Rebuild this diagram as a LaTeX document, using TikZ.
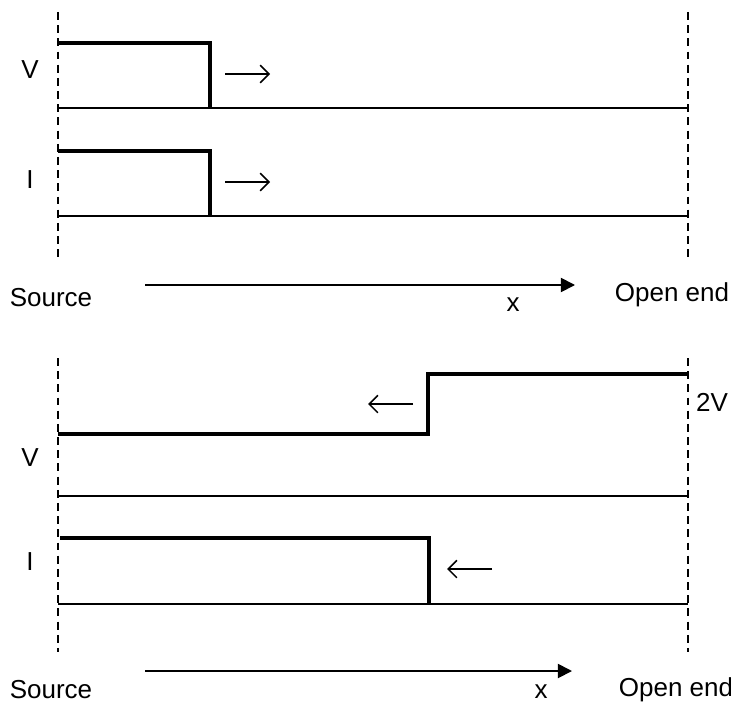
\documentclass[tikz,border=0pt]{standalone}
\usepackage{fontspec}
\setmainfont{Liberation Sans}
\usetikzlibrary{arrows.meta}
\tikzset{
	wall/.style={line width=0.9pt, dash pattern=on 4.5pt off 3pt},
	pulse/.style={line width=2.2pt, line join=miter},
	base/.style={line width=1pt},
	move/.style={-{Straight Barb[length=5pt,width=10pt,line width=0.9pt]}, line width=0.9pt},
	axis/.style={-{Triangle[length=8pt,width=8pt]}, line width=1pt},
	lbl/.style={font=\fontsize{14.8}{17}\selectfont, inner sep=0pt}
}
\begin{document}
\begin{tikzpicture}[>=stealth, scale=1]
\useasboundingbox (0,0) rectangle (14.62,14.08);
% before reflection
\draw[wall] (1.16,13.84)--(1.16,8.84);
\draw[wall] (13.76,13.84)--(13.76,8.84);
\draw[base] (1.16,11.92)--(13.76,11.92);
\draw[base] (1.16,9.76)--(13.76,9.76);
\draw[pulse] (1.16,13.22)--(4.2,13.22)--(4.2,11.92);
\draw[pulse] (1.16,11.06)--(4.2,11.06)--(4.2,9.76);
\draw[move] (4.5,12.6)--(5.4,12.6);
\draw[move] (4.5,10.44)--(5.4,10.44);
\node[lbl] (v1) at (0.6,12.68) {V};
\node[lbl] (i1) at (0.6,10.48) {I};
\coordinate (ax1) at (2.9,8.38);
\coordinate (bx1) at (11.5,8.38);
\draw[axis] (ax1)--(bx1);
\node[lbl] (src1) at (1.02,8.12) {Source};
\node[lbl] (x1) at (10.26,7.98) {x};
\node[lbl] (end1) at (13.44,8.18) {Open end};

% after reflection
\draw[wall] (1.16,6.92)--(1.16,1.04);
\draw[wall] (13.76,6.92)--(13.76,1.04);
\draw[base] (1.16,4.16)--(13.76,4.16);
\draw[base] (1.16,2.0)--(13.76,2.0);
\draw[pulse] (1.16,5.4)--(8.56,5.4)--(8.56,6.6)--(13.76,6.6);
\draw[pulse] (1.2,3.32)--(8.58,3.32)--(8.58,2.0);
\draw[move] (8.26,6.0)--(7.36,6.0);
\draw[move] (9.84,2.7)--(8.94,2.7);
\node[lbl] (v2) at (0.6,4.92) {V};
\node[lbl] (i2) at (0.6,2.84) {I};
\node[lbl] (vv2) at (14.24,6.04) {2V};
\coordinate (ax2) at (2.9,0.66);
\coordinate (bx2) at (11.44,0.66);
\draw[axis] (ax2)--(bx2);
\node[lbl] (src2) at (1.02,0.28) {Source};
\node[lbl] (x2) at (10.82,0.24) {x};
\node[lbl] (end2) at (13.52,0.28) {Open end};
\end{tikzpicture}
\end{document}
